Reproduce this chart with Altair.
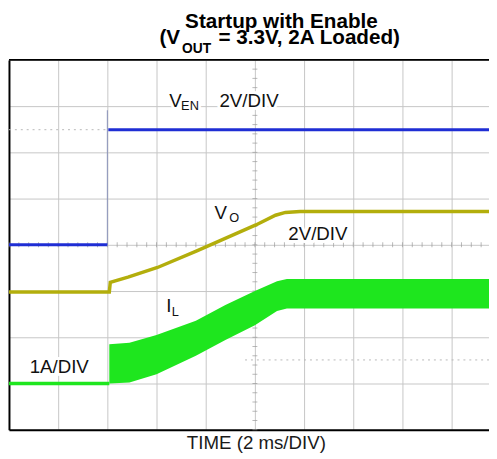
import altair as alt
import pandas as pd

# ---- axes / grid (time in ms, vertical in scope divisions) ----
X_MIN, X_MAX = -4.0, 15.52
Y_MIN, Y_MAX = 0.0, 8.0
grid_t = [-4, -2, 0, 2, 4, 6, 8, 10, 12, 14]
grid_v = [0, 1, 2, 3, 4, 5, 6, 7, 8]
minor_t = [round(-4 + 0.4 * k, 2) for k in range(49)]
minor_v = [round(0.2 * k, 2) for k in range(41)]

# ---- V_EN trace ----
ven_t = [-4.0, 0.0, 0.04, 15.52]
ven_v = [4.0, 4.0, 6.49, 6.49]
ven_seg = ["low", "low", "high", "high"]
ven_edge_t = [0.0]
ven_edge_lo = [4.0]
ven_edge_hi = [6.91]

# ---- V_O trace ----
vo_t = [-4.0, 0.08, 0.12, 0.84, 2.04, 3.64, 4.84, 6.04, 6.84, 7.24, 7.84, 15.52]
vo_v = [2.98, 2.98, 3.19, 3.30, 3.51, 3.87, 4.15, 4.43, 4.64, 4.70, 4.72, 4.72]

# ---- I_L trace ----
il_base_t = [-4.0, 0.08]
il_base_v = [1.0, 1.0]
il_t = [0.08, 0.9, 2.0, 3.6, 4.8, 6.0, 6.9, 7.3, 15.52]
il_top = [1.85, 1.88, 2.05, 2.36, 2.70, 3.00, 3.21, 3.26, 3.26]
il_bot = [1.00, 1.02, 1.20, 1.60, 1.94, 2.26, 2.57, 2.62, 2.62]

# ---- reference dotted markers ----
ref_t1 = [-4.0, 5.6]
ref_t2 = [0.0, 15.52]
ref_v = [6.49, 1.51]

# ---- labels ----
lab_text = ["V", "EN", "2V/DIV", "V", "O", "2V/DIV", "I", "L", "1A/DIV"]
lab_t = [2.52, 3.0, 4.56, 4.36, 4.96, 7.36, 2.4, 2.62, -3.16]
lab_v = [6.98, 6.92, 6.98, 4.55, 4.49, 4.11, 2.55, 2.47, 1.23]
lab_size = [19, 13, 19, 19, 13, 19, 19, 13, 19]

title1_text = ["Startup with Enable"]
title1_t = [7.08]
title1_v = [8.68]
title2_text = ["(V", "OUT", "= 3.3V, 2A Loaded)"]
title2_t = [2.12, 3.04, 4.52]
title2_v = [8.35, 8.15, 8.35]
title2_size = [21, 14, 21]

FONT = "Liberation Sans"
xs = alt.Scale(domain=[X_MIN, X_MAX], nice=False, zero=False)
ys = alt.Scale(domain=[Y_MIN, Y_MAX], nice=False, zero=False)

xaxis = alt.Axis(values=grid_t, grid=True, gridColor="#c6c6c6", gridWidth=1,
                 ticks=False, labels=False, domain=True, domainColor="black",
                 domainWidth=2, title="TIME (2 ms/DIV)", titleFont=FONT,
                 titleFontSize=19, titleFontWeight="normal", titleColor="#1a1a1a",
                 titleX=251, titleY=19, titleAlign="center", titleBaseline="alphabetic")
yaxis = alt.Axis(values=grid_v, grid=True, gridColor="#c6c6c6", gridWidth=1,
                 ticks=False, labels=False, domain=True, domainColor="black",
                 domainWidth=2, title="")

df_vo = pd.DataFrame({"t": vo_t, "v": vo_v})
df_ven = pd.DataFrame({"t": ven_t, "v": ven_v, "seg": ven_seg})
df_edge = pd.DataFrame({"t": ven_edge_t, "lo": ven_edge_lo, "hi": ven_edge_hi})
df_ilb = pd.DataFrame({"t": il_base_t, "v": il_base_v})
df_il = pd.DataFrame({"t": il_t, "top": il_top, "bot": il_bot})
df_ref = pd.DataFrame({"t1": ref_t1, "t2": ref_t2, "v": ref_v})
df_mt = pd.DataFrame({"t": minor_t})
df_mv = pd.DataFrame({"v": minor_v})
df_lab = pd.DataFrame({"text": lab_text, "t": lab_t, "v": lab_v, "size": lab_size})
df_t1 = pd.DataFrame({"text": title1_text, "t": title1_t, "v": title1_v})
df_t2 = pd.DataFrame({"text": title2_text, "t": title2_t, "v": title2_v, "size": title2_size})


def X(f):
    return alt.X(f, type="quantitative", scale=xs, axis=xaxis)


def Y(f):
    return alt.Y(f, type="quantitative", scale=ys, axis=yaxis)


top_border = alt.Chart(pd.DataFrame({"v": [Y_MAX]})).mark_rule(
    color="black", strokeWidth=2, clip=False).encode(y=Y("v"))

ticks_h = alt.Chart(df_mt).mark_tick(orient="vertical", size=5, thickness=1, color="#9a9a9a").encode(
    x=X("t"), y=alt.Y(datum=4, type="quantitative", scale=ys, axis=yaxis))
ticks_v = alt.Chart(df_mv).mark_tick(orient="horizontal", size=5, thickness=1, color="#9a9a9a").encode(
    y=Y("v"), x=alt.X(datum=6, type="quantitative", scale=xs, axis=xaxis))

refs = alt.Chart(df_ref).mark_rule(color="#b8b8b8", strokeDash=[2, 4], strokeWidth=1).encode(
    x=X("t1"), x2="t2", y=Y("v"))

ven_edge = alt.Chart(df_edge).mark_rule(color="#8890b8", strokeWidth=1).encode(
    x=X("t"), y=Y("lo"), y2="hi")
ven = alt.Chart(df_ven).mark_line(color="#1f2ed4", strokeWidth=3).encode(
    x=X("t"), y=Y("v"), detail="seg:N")

vo = alt.Chart(df_vo).mark_line(color="#b3ae0c", strokeWidth=3.5).encode(x=X("t"), y=Y("v"))

il_base = alt.Chart(df_ilb).mark_line(color="#1ee61e", strokeWidth=3.5).encode(x=X("t"), y=Y("v"))
il = alt.Chart(df_il).mark_area(color="#1ee61e", opacity=1).encode(x=X("t"), y=Y("top"), y2="bot")

halo = alt.Chart(df_lab).mark_text(align="left", baseline="alphabetic", font=FONT,
                                   stroke="white", strokeWidth=6, strokeJoin="round",
                                   fill="white").encode(
    x=X("t"), y=Y("v"), text="text:N", size=alt.Size("size:Q", scale=None, legend=None))
labels = alt.Chart(df_lab).mark_text(align="left", baseline="alphabetic", font=FONT,
                                     color="#111111").encode(
    x=X("t"), y=Y("v"), text="text:N", size=alt.Size("size:Q", scale=None, legend=None))

t1 = alt.Chart(df_t1).mark_text(align="center", baseline="alphabetic", font=FONT,
                                fontWeight="bold", fontSize=21, color="black", clip=False).encode(
    x=X("t"), y=Y("v"), text="text:N")
t2 = alt.Chart(df_t2).mark_text(align="left", baseline="alphabetic", font=FONT,
                                fontWeight="bold", color="black", clip=False).encode(
    x=X("t"), y=Y("v"), text="text:N", size=alt.Size("size:Q", scale=None, legend=None))

chart = alt.layer(ticks_h, ticks_v, refs, ven_edge, ven, vo, il_base, il,
                  top_border, halo, labels, t1, t2).properties(
    width=488, height=376, autosize="none",
    padding={"left": 1, "top": 49, "right": 0, "bottom": 26},
).configure_view(strokeWidth=0)

chart.save("out.html", embed_options={"renderer": "svg", "actions": False})
